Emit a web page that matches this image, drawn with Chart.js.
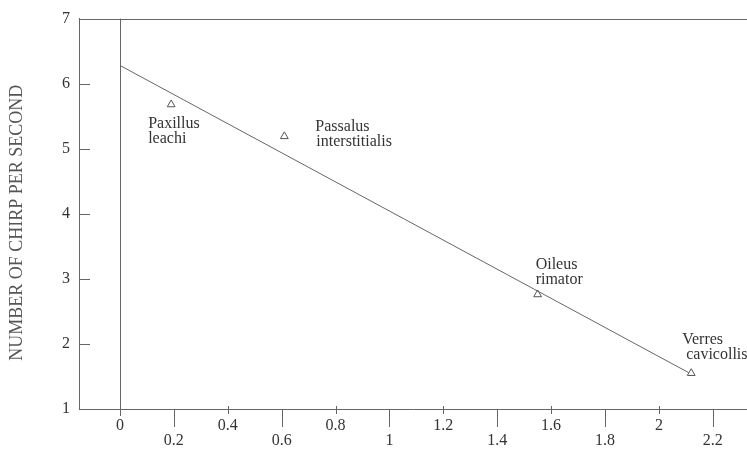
<!DOCTYPE html>
<html>
<head>
<meta charset="utf-8">
<script src="https://cdn.jsdelivr.net/npm/chart.js@4.4.0/dist/chart.umd.min.js"></script>
<style>
  html, body { margin: 0; padding: 0; background: #fff; }
</style>
</head>
<body>
<canvas id="chart" width="747" height="451"></canvas>
<script>
// species labels (two lines each) and measured values
const speciesNames = [
  ['Paxillus', 'leachi'],
  ['Passalus', 'interstitialis'],
  ['Oileus', 'rimator'],
  ['Verres', 'cavicollis']
];
const xValues = [0.19, 0.61, 1.55, 2.12];
const chirpRates = [5.68, 5.19, 2.76, 1.55];

// fitted line end points
const fitX = [0, 2.11];
const fitY = [6.28, 1.56];

const xTicks = [0, 0.2, 0.4, 0.6, 0.8, 1, 1.2, 1.4, 1.6, 1.8, 2, 2.2];
const yTicks = [1, 2, 3, 4, 5, 6, 7];

const SERIF = '"Liberation Serif", "DejaVu Serif", serif';
const LINE = '#666';

// top border, x = 0 line, tick marks, species labels
const decorations = {
  id: 'decorations',
  afterDatasetsDraw(chart, args, opts) {
    const { ctx, chartArea: area, scales: { x, y } } = chart;
    const snap = v => Math.round(v) + 0.5;
    ctx.save();
    ctx.strokeStyle = LINE;
    ctx.lineWidth = 1;
    ctx.beginPath();
    ctx.moveTo(area.left, snap(area.top));
    ctx.lineTo(area.right, snap(area.top));
    const x0 = snap(x.getPixelForValue(0));
    ctx.moveTo(x0, area.top);
    ctx.lineTo(x0, area.bottom + 7);
    yTicks.slice(1, -1).forEach(v => {
      const py = snap(y.getPixelForValue(v));
      ctx.moveTo(area.left, py);
      ctx.lineTo(area.left + 11, py);
    });
    xTicks.forEach((v, i) => {
      if (i === 0) return;
      const px = snap(x.getPixelForValue(v));
      ctx.moveTo(px, area.bottom - (i % 2 ? 0 : 3));
      ctx.lineTo(px, area.bottom + (i % 2 ? 18 : 5));
    });
    ctx.stroke();

    ctx.fillStyle = '#333';
    ctx.font = '16px ' + SERIF;
    ctx.textAlign = 'left';
    ctx.textBaseline = 'middle';
    speciesNames.forEach((lines, i) => {
      const px = x.getPixelForValue(xValues[i]);
      const py = y.getPixelForValue(chirpRates[i]);
      const [dx, dy, indent] = opts.offsets[i];
      ctx.fillText(lines[0], px + dx, py + dy);
      ctx.fillText(lines[1], px + dx + indent, py + dy + 15);
    });
    ctx.restore();
  }
};

new Chart(document.getElementById('chart'), {
  type: 'scatter',
  data: {
    datasets: [
      {
        label: 'species',
        data: xValues.map((v, i) => ({ x: v, y: chirpRates[i] })),
        pointStyle: 'triangle',
        pointRadius: 4.5,
        borderColor: '#555',
        backgroundColor: 'rgba(255,255,255,0)',
        borderWidth: 1
      },
      {
        label: 'fit',
        data: fitX.map((v, i) => ({ x: v, y: fitY[i] })),
        showLine: true,
        pointRadius: 0,
        borderColor: LINE,
        borderWidth: 1
      }
    ]
  },
  options: {
    responsive: false,
    animation: false,
    layout: { autoPadding: false, padding: { top: 17, left: 0, right: 0, bottom: 0 } },
    plugins: {
      legend: { display: false },
      tooltip: { enabled: false },
      decorations: {
        offsets: [[-23, 19, 0], [31, -10, 1], [-2, -30, 0], [-9, -33, 4]]
      }
    },
    scales: {
      x: {
        type: 'linear',
        min: -0.152,
        max: 2.327,
        afterBuildTicks: axis => { axis.ticks = xTicks.map(v => ({ value: v })); },
        afterFit: axis => { axis.height = 42; },
        grid: { display: false, drawTicks: false },
        border: { display: true, color: LINE, width: 1 },
        ticks: {
          padding: 9,
          color: '#333',
          font: { family: SERIF, size: 16, lineHeight: 0.95 },
          maxRotation: 0,
          autoSkip: false,
          callback: (value, index) => {
            const label = String(xTicks[index]);
            return index % 2 ? ['', label] : label;
          }
        }
      },
      y: {
        type: 'linear',
        min: 1,
        max: 7,
        afterBuildTicks: axis => { axis.ticks = yTicks.map(v => ({ value: v })); },
        afterFit: axis => { axis.width = 79; },
        grid: { display: false, drawTicks: false },
        border: { display: true, color: LINE, width: 1 },
        ticks: {
          padding: 9,
          color: '#333',
          font: { family: SERIF, size: 16 },
          callback: v => String(v)
        },
        title: {
          display: true,
          text: 'NUMBER OF CHIRP PER SECOND\u00a0\u00a0\u00a0\u00a0',
          color: '#555',
          font: { family: SERIF, size: 18 },
          padding: { top: 6, bottom: 0 }
        }
      }
    }
  },
  plugins: [decorations]
});
</script>
</body>
</html>
